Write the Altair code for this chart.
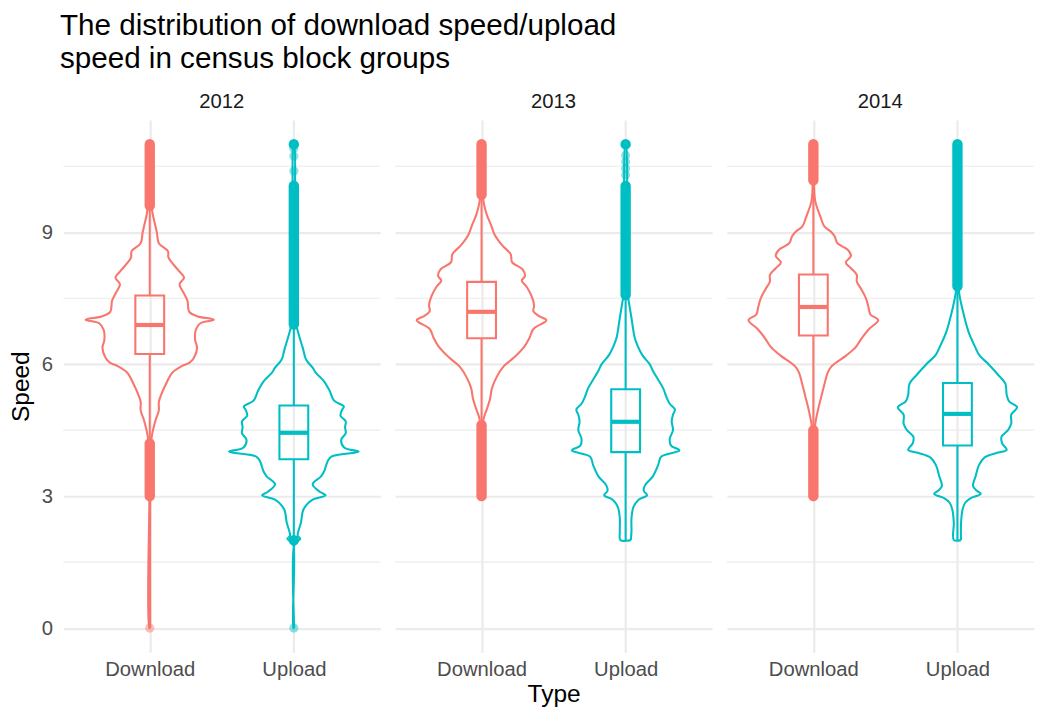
import altair as alt
import pandas as pd

FONT = "Liberation Sans"
GRID = "#EBEBEB"

years = ["2012", "2013", "2014"]
types = ["Download", "Upload"]
colors = ["#F8766D", "#00BFC4"]

# ---- violin outlines: speed grid and scaled density (1 = widest violin) ----
dl_2012_speed = [0.0, 3.0, 4.0, 4.31, 4.5, 4.73, 4.95, 5.14, 5.32, 5.55, 5.81, 5.96, 6.03, 6.14, 6.37, 6.55, 6.78,
                 6.93, 7.01, 7.09, 7.19, 7.45, 7.6, 7.82, 7.97, 8.12, 8.42, 8.57, 8.75, 8.99, 9.46, 9.8, 10.5, 11.0]
dl_2012_dens = [0.006, 0.006, 0.012, 0.026, 0.05, 0.09, 0.14, 0.14, 0.18, 0.25, 0.35, 0.50, 0.61, 0.68, 0.73, 0.70, 0.71,
                0.78, 0.99, 0.73, 0.61, 0.58, 0.53, 0.46, 0.53, 0.45, 0.29, 0.28, 0.14, 0.11, 0.04, 0.015, 0.008, 0.005]

ul_2012_speed = [0.0, 1.88, 1.95, 2.03, 2.1, 2.4, 2.7, 2.92, 3.02, 3.1, 3.27, 3.45, 3.57, 3.79, 3.9, 4.01, 4.1, 4.28,
                 4.43, 4.57, 4.7, 4.83, 4.95, 5.04, 5.17, 5.40, 5.62, 5.8, 5.92, 6.1, 6.36, 6.6, 6.81, 7.0, 8.0, 9.0, 11.0]
ul_2012_dens = [0.006, 0.006, 0.04, 0.10, 0.06, 0.11, 0.15, 0.29, 0.49, 0.40, 0.29, 0.42, 0.47, 0.52, 0.58, 1.0, 0.78, 0.73,
                0.80, 0.79, 0.80, 0.72, 0.74, 0.77, 0.62, 0.55, 0.46, 0.34, 0.29, 0.19, 0.14, 0.09, 0.05, 0.02, 0.01, 0.008, 0.005]

dl_2013_speed = [3.0, 4.0, 4.5, 4.75, 4.95, 5.2, 5.45, 5.7, 5.95, 6.15, 6.4, 6.6, 6.8, 7.0, 7.1, 7.2, 7.35, 7.55, 7.75,
                 7.9, 8.0, 8.16, 8.32, 8.5, 8.7, 8.95, 9.15, 9.4, 9.7, 10.0, 11.0]
dl_2013_dens = [0.005, 0.008, 0.015, 0.03, 0.075, 0.13, 0.16, 0.23, 0.34, 0.50, 0.66, 0.74, 0.80, 1.0, 0.88, 0.80, 0.81,
                0.77, 0.70, 0.62, 0.67, 0.63, 0.47, 0.45, 0.32, 0.2, 0.15, 0.08, 0.03, 0.012, 0.005]

ul_2013_speed = [2.0, 2.2, 2.5, 2.75, 2.92, 3.02, 3.12, 3.25, 3.45, 3.7, 3.9, 4.04, 4.15, 4.3, 4.5, 4.7, 4.85, 4.97, 5.1,
                 5.25, 5.45, 5.65, 5.85, 6.0, 6.2, 6.4, 6.6, 6.85, 7.05, 7.41, 7.6, 8.0, 11.0]
ul_2013_dens = [0.08, 0.09, 0.09, 0.12, 0.2, 0.33, 0.28, 0.3, 0.42, 0.50, 0.55, 0.83, 0.70, 0.68, 0.73, 0.71, 0.73, 0.76,
                0.68, 0.63, 0.58, 0.50, 0.42, 0.37, 0.26, 0.19, 0.14, 0.11, 0.09, 0.05, 0.03, 0.015, 0.005]

dl_2014_speed = [3.0, 4.0, 4.45, 4.65, 4.95, 5.25, 5.54, 5.8, 5.95, 6.2, 6.4, 6.6, 6.8, 7.0, 7.13, 7.3, 7.5, 7.7, 7.88,
                 8.03, 8.18, 8.31, 8.46, 8.6, 8.75, 8.9, 9.0, 9.13, 9.35, 9.7, 10.1, 11.0]
dl_2014_dens = [0.005, 0.008, 0.015, 0.03, 0.07, 0.12, 0.17, 0.22, 0.28, 0.51, 0.66, 0.75, 0.86, 1.0, 0.88, 0.85, 0.81,
                0.74, 0.67, 0.67, 0.58, 0.5, 0.58, 0.53, 0.37, 0.33, 0.28, 0.17, 0.11, 0.03, 0.01, 0.005]

ul_2014_speed = [2.0, 2.4, 2.7, 2.85, 2.95, 3.05, 3.12, 3.23, 3.45, 3.7, 3.88, 3.98, 4.05, 4.2, 4.35, 4.5, 4.65, 4.85,
                 5.02, 5.15, 5.3, 5.55, 5.77, 6.0, 6.2, 6.4, 6.74, 7.23, 7.63, 8.0, 11.0]
ul_2014_dens = [0.055, 0.056, 0.08, 0.12, 0.2, 0.36, 0.3, 0.24, 0.28, 0.33, 0.42, 0.6, 0.76, 0.69, 0.68, 0.78, 0.83, 0.83,
                0.92, 0.8, 0.76, 0.74, 0.62, 0.48, 0.34, 0.27, 0.17, 0.08, 0.025, 0.012, 0.005]

# ---- boxplot statistics, order: 2012 D, 2012 U, 2013 D, 2013 U, 2014 D, 2014 U ----
box_year = ["2012", "2012", "2013", "2013", "2014", "2014"]
box_type = ["Download", "Upload", "Download", "Upload", "Download", "Upload"]
box_q1 = [6.23, 3.84, 6.59, 4.00, 6.65, 4.15]
box_med = [6.89, 4.44, 7.19, 4.69, 7.30, 4.87]
box_q3 = [7.56, 5.06, 7.87, 5.43, 8.04, 5.57]
box_lo = [4.25, 2.05, 4.70, 2.00, 4.60, 2.00]
box_hi = [9.55, 6.85, 9.80, 7.55, 10.10, 7.70]

# ---- outliers: densely packed runs (lowest, highest value) and isolated points ----
run_year = ["2012", "2012", "2012", "2012", "2012", "2013", "2013", "2013", "2013", "2014", "2014", "2014"]
run_type = ["Download", "Download", "Upload", "Upload", "Upload", "Download", "Download", "Upload", "Upload",
            "Download", "Download", "Upload"]
run_lo = [3.00, 9.60, 1.995, 6.90, 10.995, 3.00, 9.85, 7.57, 10.995, 3.00, 10.18, 7.77]
run_hi = [4.20, 11.00, 2.000, 10.06, 11.000, 4.62, 11.00, 10.05, 11.000, 4.50, 11.00, 11.00]

pt_year = ["2012", "2012", "2012", "2012", "2012", "2013", "2013", "2013", "2013"]
pt_type = ["Download", "Upload", "Upload", "Upload", "Upload", "Upload", "Upload", "Upload", "Upload"]
pt_speed = [0.0, 0.0, 10.39, 10.73, 10.90, 10.30, 10.45, 10.60, 10.75]

minor_breaks = [1.5, 4.5, 7.5, 10.5]
major_breaks = [0, 3, 6, 9]

POS = {"Download": 1.0, "Upload": 2.0}
HALF = 0.45   # half-width of the widest violin, in category units
BOXW = 0.1    # half-width of the boxes

violins = {
    ("2012", "Download"): (dl_2012_speed, dl_2012_dens),
    ("2012", "Upload"): (ul_2012_speed, ul_2012_dens),
    ("2013", "Download"): (dl_2013_speed, dl_2013_dens),
    ("2013", "Upload"): (ul_2013_speed, ul_2013_dens),
    ("2014", "Download"): (dl_2014_speed, dl_2014_dens),
    ("2014", "Upload"): (ul_2014_speed, ul_2014_dens),
}

vrows = []
for (yr, ty), (sp, de) in violins.items():
    if len(sp) != len(de):
        raise ValueError(f"length mismatch {yr} {ty}")
    c = POS[ty]
    path = [(s, c + d * HALF) for s, d in zip(sp, de)]
    path += [(s, c - d * HALF) for s, d in reversed(list(zip(sp, de)))]
    path.append(path[0])
    for i, (s, x) in enumerate(path):
        vrows.append({"year": yr, "type": ty, "i": i, "x": x, "y": s})
violin_df = pd.DataFrame(vrows)

box_df = pd.DataFrame({"year": box_year, "type": box_type, "q1": box_q1, "med": box_med,
                       "q3": box_q3, "lo": box_lo, "hi": box_hi})
box_df["x"] = box_df["type"].map(POS)
box_df["xl"] = box_df["x"] - BOXW
box_df["xr"] = box_df["x"] + BOXW

wrows = []
for _, r in box_df.iterrows():
    wrows.append({"year": r.year, "type": r.type, "x": r.x, "a": r.q3, "b": r.hi})
    wrows.append({"year": r.year, "type": r.type, "x": r.x, "a": r.lo, "b": r.q1})
whisk_df = pd.DataFrame(wrows)

run_df = pd.DataFrame({"year": run_year, "type": run_type, "lo": run_lo, "hi": run_hi})
run_df["x"] = run_df["type"].map(POS)
pt_df = pd.DataFrame({"year": pt_year, "type": pt_type, "y": pt_speed})
pt_df["x"] = pt_df["type"].map(POS)
minor_df = pd.DataFrame({"y": minor_breaks})

UNIT = 321 / 2.2
PANEL_H = 539
TXT = 20.5


def panel(yr, idx):
    xmax = 2.6 if idx < 2 else 2.53
    w = UNIT * (xmax - 0.4)
    xs = alt.Scale(domain=[0.4, xmax], nice=False, zero=False)
    ys = alt.Scale(domain=[-0.55, 11.55], nice=False, zero=False)
    col = alt.Color("type:N", scale=alt.Scale(domain=types, range=colors), legend=None)

    xaxis = alt.Axis(values=[1, 2], labelExpr="datum.value == 1 ? 'Download' : 'Upload'",
                     grid=True, gridColor=GRID, gridWidth=2.2, domain=False, ticks=False, tickSize=0,
                     labelFont=FONT, labelFontSize=TXT, labelColor="#4D4D4D", labelPadding=8,
                     labelFlush=False, labelOverlap=False,
                     title="Type" if idx == 1 else None, titleFont=FONT, titleFontSize=24.8,
                     titleFontWeight="normal", titleColor="#000000", titlePadding=1.5)
    if idx == 0:
        yaxis = alt.Axis(values=major_breaks, grid=True, gridColor=GRID, gridWidth=2.2, domain=False,
                         ticks=False, tickSize=0, labelFont=FONT, labelFontSize=TXT, labelColor="#4D4D4D",
                         labelPadding=11, title="Speed", titleFont=FONT, titleFontSize=24.8,
                         titleFontWeight="normal", titleColor="#000000", titlePadding=8)
    else:
        yaxis = alt.Axis(values=major_breaks, grid=True, gridColor=GRID, gridWidth=2.2, domain=False,
                         ticks=False, tickSize=0, labels=False, title=None, minExtent=0)

    f = alt.datum.year == yr
    X = lambda fld: alt.X(fld, scale=xs, axis=xaxis)
    Y = lambda fld: alt.Y(fld, scale=ys, axis=yaxis)

    minor = alt.Chart(minor_df).mark_rule(color=GRID, strokeWidth=1.1).encode(y=Y("y:Q"))
    vio = alt.Chart(violin_df).transform_filter(f).mark_line(
        strokeWidth=2.1, interpolate="catmull-rom").encode(
        x=X("x:Q"), y=Y("y:Q"), order=alt.Order("i:Q"), detail="type:N", color=col)
    whisk = alt.Chart(whisk_df).transform_filter(f).mark_rule(strokeWidth=2.1).encode(
        x=X("x:Q"), y=Y("a:Q"), y2="b:Q", color=col)
    box = alt.Chart(box_df).transform_filter(f).mark_rect(filled=False, strokeWidth=2.1).encode(
        x=X("xl:Q"), x2="xr:Q", y=Y("q1:Q"), y2="q3:Q", color=col)
    med = alt.Chart(box_df).transform_filter(f).mark_rule(strokeWidth=4.2).encode(
        x=X("xl:Q"), x2="xr:Q", y=Y("med:Q"), color=col)
    runs = alt.Chart(run_df).transform_filter(f).mark_rule(strokeWidth=10.5, strokeCap="round").encode(
        x=X("x:Q"), y=Y("lo:Q"), y2="hi:Q", color=col)
    pts = alt.Chart(pt_df).transform_filter(f).mark_circle(size=86, opacity=0.45).encode(
        x=X("x:Q"), y=Y("y:Q"), color=col)

    return alt.layer(minor, vio, whisk, box, med, runs, pts).properties(
        width=w, height=PANEL_H,
        title=alt.TitleParams(text=yr, font=FONT, fontSize=TXT, fontWeight="normal", color="#1A1A1A",
                              anchor="middle", offset=7.5))


chart = alt.hconcat(*[panel(y, i) for i, y in enumerate(years)], spacing=13).properties(
    title=alt.TitleParams(text=["The distribution of download speed/upload", "speed in census block groups"],
                          font=FONT, fontSize=30, lineHeight=34, fontWeight="normal", color="#000000",
                          anchor="start", offset=18.5, dx=52),
    padding={"left": 0, "top": -2, "right": 0, "bottom": 0},
).configure_view(strokeWidth=0)

chart.save("out.html", embed_options={"renderer": "svg", "actions": False})
